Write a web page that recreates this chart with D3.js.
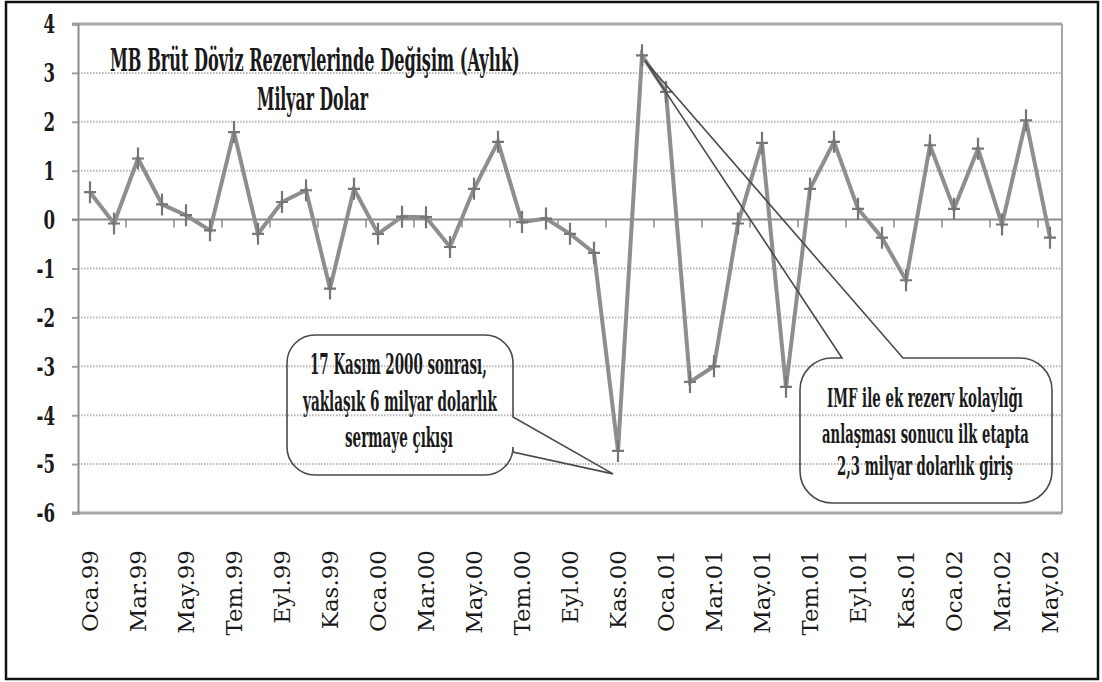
<!DOCTYPE html>
<html>
<head>
<meta charset="utf-8">
<script src="https://cdn.jsdelivr.net/npm/d3@7/dist/d3.min.js"></script>
<style>
  html, body { margin: 0; padding: 0; background: #fff; }
  svg { display: block; }
</style>
</head>
<body>
<svg id="chart" width="1102" height="682"></svg>
<script>
// Monthly change in CB gross FX reserves, Jan 1999 – May 2002 (billion USD)
const months = [
  "Oca.99","Şub.99","Mar.99","Nis.99","May.99","Haz.99","Tem.99","Ağu.99","Eyl.99","Eki.99","Kas.99","Ara.99",
  "Oca.00","Şub.00","Mar.00","Nis.00","May.00","Haz.00","Tem.00","Ağu.00","Eyl.00","Eki.00","Kas.00","Ara.00",
  "Oca.01","Şub.01","Mar.01","Nis.01","May.01","Haz.01","Tem.01","Ağu.01","Eyl.01","Eki.01","Kas.01","Ara.01",
  "Oca.02","Şub.02","Mar.02","Nis.02","May.02"
];
const reserveChange = [
  0.56, -0.08, 1.25, 0.31, 0.09, -0.22, 1.79, -0.29, 0.36, 0.60, -1.41, 0.63,
  -0.29, 0.06, 0.05, -0.56, 0.63, 1.59, -0.05, 0.02, -0.29, -0.68, -4.73, 3.36,
  2.61, -3.32, -3.00, -0.08, 1.57, -3.42, 0.63, 1.59, 0.22, -0.37, -1.24, 1.52,
  0.22, 1.45, -0.10, 2.03, -0.37
];
const yTicks = [4, 3, 2, 1, 0, -1, -2, -3, -4, -5, -6];
const titleLines = ["MB Brüt Döviz Rezervlerinde Değişim (Aylık)", "Milyar Dolar"];
const noteOutflow = ["17 Kasım 2000 sonrası,", "yaklaşık 6 milyar dolarlık", "sermaye çıkışı"];
const noteInflow = ["IMF ile ek rezerv kolaylığı", "anlaşması sonucu ilk etapta", "2,3 milyar dolarlık giriş"];

const svg = d3.select("#chart");
const serif = "'DejaVu Serif', 'Liberation Serif', serif";

// outer frame
svg.append("rect")
  .attr("x", 6).attr("y", 2).attr("width", 1092).attr("height", 677)
  .attr("fill", "#fff").attr("stroke", "#111").attr("stroke-width", 2.5);

const plot = { left: 78, right: 1062, top: 24, bottom: 513 };

const x = d3.scaleBand().domain(months).range([plot.left, plot.right]).padding(0);
const xc = m => x(m) + x.bandwidth() / 2;
const y = d3.scaleLinear().domain([-6, 4]).range([plot.bottom, plot.top]);

// draws a text condensed horizontally so that it spans the given width
function condensedText(parent, str, left, baseline, width, size) {
  const t = parent.append("text")
    .attr("font-size", size)
    .text(str);
  const natural = t.node().getComputedTextLength();
  const sx = width / natural;
  t.attr("transform", `translate(${left},${baseline}) scale(${sx},1)`);
  return t;
}

// dotted horizontal gridlines
svg.append("g").selectAll("line")
  .data(yTicks.filter(t => t !== 0 && t !== 4 && t !== -6))
  .join("line")
  .attr("x1", plot.left).attr("x2", plot.right)
  .attr("y1", d => y(d)).attr("y2", d => y(d))
  .attr("stroke", "#b8b8b8").attr("stroke-width", 2)
  .attr("stroke-dasharray", "1.5,1.5");

// top and bottom plot edges
svg.append("g").selectAll("line")
  .data([4, -6])
  .join("line")
  .attr("x1", plot.left - 6).attr("x2", plot.right)
  .attr("y1", d => y(d)).attr("y2", d => y(d))
  .attr("stroke", "#a6a6a6").attr("stroke-width", 3);

// right plot edge
svg.append("line")
  .attr("x1", plot.right).attr("x2", plot.right)
  .attr("y1", plot.top).attr("y2", plot.bottom)
  .attr("stroke", "#a6a6a6").attr("stroke-width", 2);

// y axis
const yAxis = d3.axisLeft(y).tickValues(yTicks).tickSize(6).tickFormat("");
const gy = svg.append("g").attr("transform", `translate(${plot.left},0)`).call(yAxis);
gy.select(".domain").attr("stroke", "#8c8c8c").attr("stroke-width", 2);
gy.selectAll(".tick line").attr("stroke", "#a0a0a0").attr("stroke-width", 2);

svg.append("g").selectAll("text")
  .data(yTicks)
  .join("text")
  .attr("transform", d => `translate(55,${y(d)}) scale(0.64,1)`)
  .attr("dy", "0.36em")
  .attr("text-anchor", "end")
  .attr("font-family", serif).attr("font-weight", "bold")
  .attr("font-size", 26).attr("fill", "#1a1a1a")
  .text(d => d3.format("d")(d).replace("−", "-"));

// zero line with category ticks every two months
svg.append("line")
  .attr("x1", plot.left - 6).attr("x2", plot.right)
  .attr("y1", y(0)).attr("y2", y(0))
  .attr("stroke", "#8c8c8c").attr("stroke-width", 2);

svg.append("g").selectAll("line")
  .data(months.filter((m, i) => i % 2 === 0 && i > 0))
  .join("line")
  .attr("x1", d => x(d)).attr("x2", d => x(d))
  .attr("y1", y(0)).attr("y2", y(0) + 8)
  .attr("stroke", "#8c8c8c").attr("stroke-width", 1.5);

// category labels (every second month), rotated
svg.append("g").selectAll("text")
  .data(months.filter((m, i) => i % 2 === 0))
  .join("text")
  .attr("transform", d => `translate(${xc(d)},550) rotate(-90)`)
  .attr("dy", "0.35em")
  .attr("text-anchor", "end")
  .attr("font-family", serif)
  .attr("font-size", 23).attr("fill", "#1a1a1a")
  .text(d => d);

// data line
const line = d3.line()
  .x((d, i) => xc(months[i]))
  .y(d => y(d));

svg.append("path")
  .datum(reserveChange)
  .attr("d", line)
  .attr("fill", "none")
  .attr("stroke", "#8e8e8e")
  .attr("stroke-width", 4)
  .attr("stroke-linejoin", "miter");

// plus markers
svg.append("g").selectAll("path")
  .data(reserveChange)
  .join("path")
  .attr("d", (d, i) => {
    const cx = xc(months[i]), cy = y(d);
    return `M${cx - 6},${cy}H${cx + 6}M${cx},${cy - 11}V${cy + 11}`;
  })
  .attr("stroke", "#767676").attr("stroke-width", 2.2).attr("fill", "none");

// title
const title = svg.append("g").attr("font-family", serif).attr("font-weight", "bold").attr("fill", "#1a1a1a");
condensedText(title, titleLines[0], 110, 71, 410, 31);
condensedText(title, titleLines[1], 257, 110, 111, 31);

// callout shapes
function boxWedgeRight(x0, y0, x1, y1, r, a, b, tip) {
  return `M${x0 + r},${y0}H${x1 - r}A${r},${r} 0 0 1 ${x1},${y0 + r}V${a}L${tip[0]},${tip[1]}L${x1},${b}` +
         `V${y1 - r}A${r},${r} 0 0 1 ${x1 - r},${y1}H${x0 + r}A${r},${r} 0 0 1 ${x0},${y1 - r}` +
         `V${y0 + r}A${r},${r} 0 0 1 ${x0 + r},${y0}Z`;
}
function boxWedgeTop(x0, y0, x1, y1, r, a, b, tip) {
  return `M${x0 + r},${y0}H${a}L${tip[0]},${tip[1]}L${b},${y0}H${x1 - r}A${r},${r} 0 0 1 ${x1},${y0 + r}` +
         `V${y1 - r}A${r},${r} 0 0 1 ${x1 - r},${y1}H${x0 + r}A${r},${r} 0 0 1 ${x0},${y1 - r}` +
         `V${y0 + r}A${r},${r} 0 0 1 ${x0 + r},${y0}Z`;
}

const tipOutflow = [xc("Kas.00") - 5, y(-5.2)];
const tipInflow = [xc("Ara.00") + 3, y(3.25)];

svg.append("path")
  .attr("d", boxWedgeRight(287, 335, 513, 475, 28, 417, 452, tipOutflow))
  .attr("fill", "none").attr("stroke", "#4a4a4a").attr("stroke-width", 1.6);

svg.append("path")
  .attr("d", boxWedgeTop(800, 358, 1052, 503, 32, 842, 903, tipInflow))
  .attr("fill", "none").attr("stroke", "#4a4a4a").attr("stroke-width", 1.6);

// callout texts
const outflowG = svg.append("g").attr("font-family", serif).attr("font-weight", "bold").attr("fill", "#1a1a1a");
const outflowPos = [[310, 374, 177], [303, 411, 194], [345, 447, 108]];
noteOutflow.forEach((s, i) => condensedText(outflowG, s, outflowPos[i][0], outflowPos[i][1], outflowPos[i][2], 28));

const inflowG = svg.append("g").attr("font-family", serif).attr("font-weight", "bold").attr("fill", "#1a1a1a");
const inflowPos = [[827, 407, 196], [822, 443, 207], [837, 475, 176]];
noteInflow.forEach((s, i) => condensedText(inflowG, s, inflowPos[i][0], inflowPos[i][1], inflowPos[i][2], 26));
</script>
</body>
</html>
